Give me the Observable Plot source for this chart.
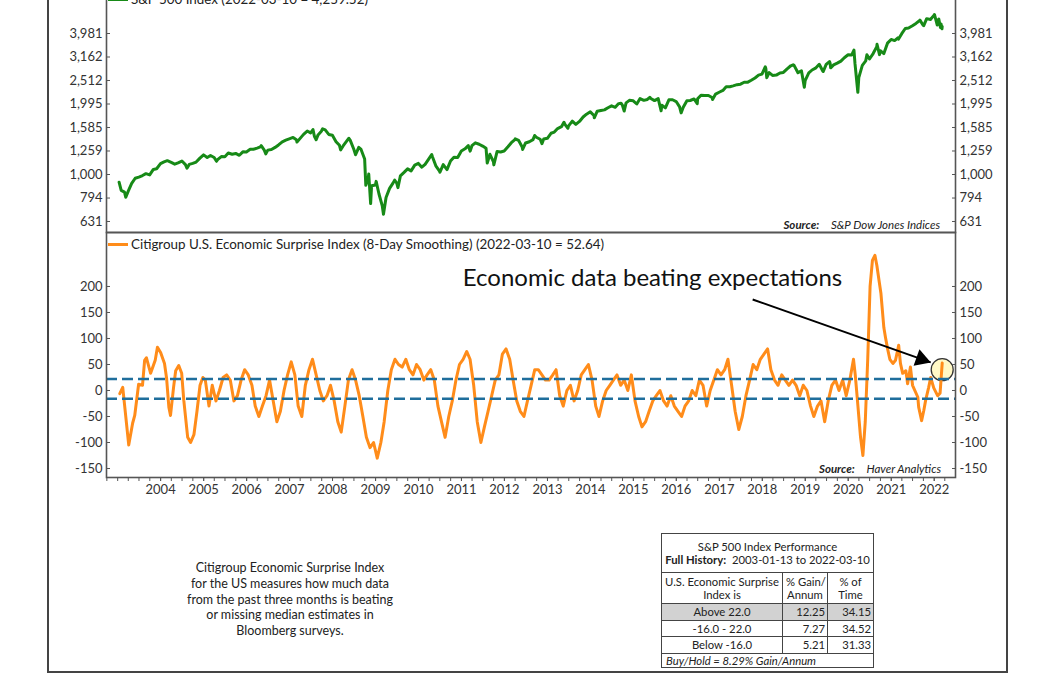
<!DOCTYPE html>
<html>
<head>
<meta charset="utf-8">
<script src="https://cdn.jsdelivr.net/npm/d3@7"></script>
<script src="https://cdn.jsdelivr.net/npm/@observablehq/plot@0.6"></script>
<style>
  body { margin: 0; background: #fff; }
  #root { position: relative; width: 1056px; height: 675px; overflow: hidden; background: #fff; font-family: Lato, "Open Sans", sans-serif; color: #222; }
  .abs { position: absolute; }
  .legend { font-size: 13.4px; white-space: nowrap; display: flex; align-items: center; color: #222; }
  .legend .sw { display: inline-block; width: 20px; height: 3px; margin-right: 3px; }
  .src { font-size: 11.5px; font-style: italic; white-space: nowrap; text-align: right; color: #222; }
  .src b { font-weight: 700; margin-right: 9px; }
  #note { font-size: 12.5px; line-height: 15.8px; text-align: center; width: 300px; color: #222; }
  #perf { border-collapse: collapse; table-layout: fixed; font-size: 11.3px; color: #222; background: #fff; border: 1.5px solid #333; white-space: nowrap; }
  #perf td { border: 1px solid #444; padding: 0 3px; line-height: 13.5px; overflow: hidden; }
</style>
</head>
<body>
<div id="root">
  <div class="abs" style="left:47px;top:-10px;width:961px;height:683px;border:2px solid #444;box-sizing:border-box"></div>
  <div id="topChart" class="abs" style="left:0;top:-24px"></div>
  <div id="botChart" class="abs" style="left:0;top:222px"></div>
  <div class="abs legend" style="left:108px;top:-9px"><span class="sw" style="background:#178a17"></span><span id="legTop"></span></div>
  <div class="abs legend" style="left:108px;top:236px"><span class="sw" style="background:#ff8c1a"></span><span id="legBot"></span></div>
  <div class="abs src" style="right:116px;top:218px"><b>Source:</b> S&amp;P Dow Jones Indices</div>
  <div class="abs src" style="right:115px;top:462px"><b>Source:</b> Haver Analytics</div>
  <div id="note" class="abs" style="left:140px;top:560px"></div>
  <table id="perf" class="abs" style="left:661px;top:533px;width:212px"></table>
</div>
<script>
// ---------------- data ----------------
// S&P 500: month-end closes
const spxDates = [
"2003-01-13","2003-01-31","2003-02-28","2003-03-11","2003-03-31","2003-04-30","2003-05-30","2003-06-30","2003-07-31","2003-08-29","2003-09-30","2003-10-31","2003-11-28","2003-12-31",
"2004-01-30","2004-02-27","2004-03-31","2004-04-30","2004-05-28","2004-06-30","2004-07-30","2004-08-31","2004-09-30","2004-10-29","2004-11-30","2004-12-31",
"2005-01-31","2005-02-28","2005-03-31","2005-04-29","2005-05-31","2005-06-30","2005-07-29","2005-08-31","2005-09-30","2005-10-31","2005-11-30","2005-12-30",
"2006-01-31","2006-02-28","2006-03-31","2006-04-28","2006-05-31","2006-06-30","2006-07-31","2006-08-31","2006-09-29","2006-10-31","2006-11-30","2006-12-29",
"2007-01-31","2007-02-28","2007-03-30","2007-04-30","2007-05-31","2007-06-29","2007-07-31","2007-08-31","2007-09-28","2007-10-09","2007-10-31","2007-11-30","2007-12-31",
"2008-01-31","2008-02-29","2008-03-31","2008-04-30","2008-05-30","2008-06-30","2008-07-31","2008-08-29","2008-09-30","2008-10-31","2008-11-20","2008-11-28","2008-12-31",
"2009-01-30","2009-02-27","2009-03-09","2009-03-31","2009-04-30","2009-05-29","2009-06-30","2009-07-31","2009-08-31","2009-09-30","2009-10-30","2009-11-30","2009-12-31",
"2010-01-29","2010-02-26","2010-03-31","2010-04-30","2010-05-28","2010-06-30","2010-07-30","2010-08-31","2010-09-30","2010-10-29","2010-11-30","2010-12-31",
"2011-01-31","2011-02-28","2011-03-31","2011-04-29","2011-05-31","2011-06-30","2011-07-29","2011-08-31","2011-09-30","2011-10-03","2011-10-31","2011-11-30","2011-12-30",
"2012-01-31","2012-02-29","2012-03-30","2012-04-30","2012-05-31","2012-06-29","2012-07-31","2012-08-31","2012-09-28","2012-10-31","2012-11-30","2012-12-31",
"2013-01-31","2013-02-28","2013-03-28","2013-04-30","2013-05-31","2013-06-28","2013-07-31","2013-08-30","2013-09-30","2013-10-31","2013-11-29","2013-12-31",
"2014-01-31","2014-02-28","2014-03-31","2014-04-30","2014-05-30","2014-06-30","2014-07-31","2014-08-29","2014-09-30","2014-10-31","2014-11-28","2014-12-31",
"2015-01-30","2015-02-27","2015-03-31","2015-04-30","2015-05-29","2015-06-30","2015-07-31","2015-08-31","2015-09-30","2015-10-30","2015-11-30","2015-12-31",
"2016-01-29","2016-02-29","2016-03-31","2016-04-29","2016-05-31","2016-06-30","2016-07-29","2016-08-31","2016-09-30","2016-10-31","2016-11-30","2016-12-30",
"2017-01-31","2017-02-28","2017-03-31","2017-04-28","2017-05-31","2017-06-30","2017-07-31","2017-08-31","2017-09-29","2017-10-31","2017-11-30","2017-12-29",
"2018-01-31","2018-02-28","2018-03-29","2018-04-30","2018-05-31","2018-06-29","2018-07-31","2018-08-31","2018-09-28","2018-10-31","2018-11-30","2018-12-24","2018-12-31",
"2019-01-31","2019-02-28","2019-03-29","2019-04-30","2019-05-31","2019-06-28","2019-07-31","2019-08-30","2019-09-30","2019-10-31","2019-11-29","2019-12-31",
"2020-01-31","2020-02-19","2020-02-28","2020-03-23","2020-03-31","2020-04-30","2020-05-29","2020-06-30","2020-07-31","2020-08-31","2020-09-30","2020-10-30","2020-11-30","2020-12-31",
"2021-01-29","2021-02-26","2021-03-31","2021-04-30","2021-05-28","2021-06-30","2021-07-30","2021-08-31","2021-09-30","2021-10-29","2021-11-30","2021-12-31",
"2022-01-31","2022-02-28","2022-03-10"];
const spxValues = [
927,856,841,800,848,916,964,975,990,1008,996,1051,1058,1112,
1131,1145,1126,1107,1121,1141,1102,1104,1115,1130,1174,1212,
1181,1204,1181,1157,1192,1191,1234,1220,1229,1207,1249,1248,
1280,1281,1295,1311,1270,1270,1277,1304,1336,1378,1401,1418,
1438,1407,1421,1482,1531,1503,1455,1474,1527,1565,1549,1481,1468,
1379,1331,1323,1386,1400,1280,1267,1283,1165,969,752,896,903,
826,735,677,798,873,919,919,987,1021,1057,1036,1096,1115,
1074,1104,1169,1187,1089,1031,1102,1049,1141,1183,1181,1258,
1286,1327,1326,1364,1345,1321,1292,1219,1131,1099,1253,1247,1258,
1312,1366,1408,1398,1310,1362,1379,1407,1441,1412,1416,1426,
1498,1515,1569,1598,1631,1606,1686,1633,1682,1757,1806,1848,
1783,1859,1872,1884,1924,1960,1931,2003,1972,2018,2068,2059,
1995,2105,2068,2086,2107,2063,2104,1972,1920,2079,2080,2044,
1940,1932,2060,2065,2097,2099,2174,2171,2168,2126,2199,2239,
2279,2364,2363,2384,2412,2423,2470,2472,2519,2575,2648,2674,
2824,2714,2641,2648,2705,2718,2816,2902,2914,2712,2760,2351,2507,
2704,2784,2834,2946,2752,2942,2980,2926,2977,3038,3141,3231,
3226,3386,2954,2237,2585,2912,3044,3100,3271,3500,3363,3270,3622,3756,
3714,3811,3973,4181,4204,4298,4395,4523,4308,4605,4567,4766,
4516,4374,4260];
// S&P 500: intra-month swing highs and lows
const spxSwingDates = ["2004-08-12","2005-04-20","2006-05-05","2006-06-13","2007-03-05","2007-07-19","2007-08-15","2008-03-10","2008-05-19","2008-07-15","2008-08-11","2008-10-10","2008-11-04","2009-01-06","2009-06-12","2009-07-10","2010-04-23","2010-07-02","2011-03-16","2011-08-08","2012-04-02","2012-06-04","2012-09-14","2012-11-15","2013-05-21","2013-06-24","2014-02-03","2014-09-18","2014-10-15","2015-05-21","2015-08-25","2016-02-11","2016-06-27","2016-11-04","2018-01-26","2018-02-08","2018-09-20","2019-06-03","2019-07-26","2019-08-05","2020-06-08","2020-09-02","2020-09-23","2021-03-04","2021-09-02","2021-10-04","2022-01-03","2022-01-27","2022-02-09","2022-02-23","2022-03-08"];
const spxSwingValues = [1064,1138,1326,1224,1374,1553,1406,1273,1426,1214,1305,899,1005,935,946,879,1217,1022,1257,1119,1419,1278,1466,1353,1669,1573,1742,2011,1862,2131,1867,1829,2001,2085,2873,2581,2930,2744,3025,2844,3232,3580,3237,3768,4537,4300,4797,4326,4587,4225,4170];

// Citigroup U.S. surprise index, 2003 - 2004 readings
const cesiStartDates = ["2003-01-19","2003-02-13","2003-04-05","2003-05-08","2003-05-26","2003-06-28","2003-07-31","2003-08-18","2003-09-02","2003-10-08","2003-11-16","2003-12-05","2004-01-01","2004-02-03","2004-02-21","2004-03-11","2004-03-25","2004-04-20","2004-05-08","2004-06-03","2004-06-28","2004-07-16","2004-08-18","2004-09-12","2004-10-10","2004-11-05","2004-12-01","2004-12-25"];
const cesiStartValues = [-6,6,-105,-63,-48,12,10,58,63,33,58,83,73,52,23,-32,-48,6,38,48,33,-19,-90,-100,-85,-40,10,25];
// mid-month readings, one row of 12 per year
const cesiYears = [2005,2006,2007,2008,2009,2010,2011,2012,2013,2014,2015,2016,2017,2018,2019];
const cesiMonthly = [
20,-30,10,-20,0,25,30,20,-20,-10,20,40,
30,10,-30,-50,-30,-10,20,-20,-60,-40,0,30,
55,30,-30,-50,10,40,60,30,0,-20,-10,10,
-20,-60,-80,-30,20,40,20,-10,-50,-90,-110,-100,
-130,-100,-60,0,40,60,50,45,60,40,30,50,
40,20,30,40,20,-30,-60,-90,-50,-20,20,50,
60,75,60,10,-60,-100,-70,-40,-10,20,30,70,
80,60,20,-20,-40,-50,-20,10,40,40,30,20,
20,30,40,-10,-30,0,10,-20,0,30,40,50,
20,-30,-50,-20,0,10,20,30,10,20,0,30,
-20,-50,-70,-60,-40,-20,-10,0,-20,-30,-10,-30,
-40,-50,-30,-20,0,-10,20,10,-30,0,20,40,
30,40,60,10,-40,-75,-50,-10,20,50,40,60,
70,80,40,20,10,30,20,10,20,10,-10,10,
0,-30,-50,-30,-20,-60,-20,10,20,0,20,-10];
// 2020 - 2022 readings
const cesiEndDates = ["2020-01-15","2020-02-15","2020-03-01","2020-03-20","2020-04-15","2020-05-05","2020-05-25","2020-06-15","2020-07-05","2020-07-25","2020-08-15","2020-09-01","2020-09-20","2020-10-05","2020-10-30","2020-11-13","2020-12-01","2020-12-20","2021-01-15","2021-02-06","2021-03-05","2021-03-20","2021-04-08","2021-05-05","2021-05-20","2021-06-13","2021-07-01","2021-08-15","2021-08-22","2021-09-16","2021-10-05","2021-10-20","2021-11-15","2021-12-02","2021-12-28","2022-01-30","2022-02-20","2022-03-10"];
const cesiEndValues = [20,60,30,-20,-90,-125,-60,60,200,250,260,240,210,187,121,102,80,60,52,58,87,52,33,38,13,45,10,-13,-32,-58,-38,-19,6,25,5,-10,-5,52.64];

const spxTicks = [631, 794, 1000, 1259, 1585, 1995, 2512, 3162, 3981];
const spxRange = [566.5, 6309.6];
const cesiTicks = [-150, -100, -50, 0, 50, 100, 150, 200];
const cesiRange = [-167.3, 303.8];
const bandLevels = [22, -16];
const circleLevel = [40];
const yearLabels = d3.range(2004, 2023);

const legendTopText = "S&P 500 Index (2022-03-10 = 4,259.52)";
const legendBotText = "Citigroup U.S. Economic Surprise Index (8-Day Smoothing) (2022-03-10 = 52.64)";
const annotationText = ["Economic data beating expectations"];
const noteLines = ["Citigroup Economic Surprise Index", "for the US measures how much data", "from the past three months is beating", "or missing median estimates in", "Bloomberg surveys."];

const tableTitle = "S&P 500 Index Performance";
const tableRange = "2003-01-13 to 2022-03-10";
const tableHeader = ["U.S. Economic Surprise<br>Index is", "% Gain/<br>Annum", "% of<br>Time"];
const tableLabels = ["Above 22.0", "-16.0 - 22.0", "Below -16.0"];
const tableGain = ["12.25", "7.27", "5.21"];
const tableTime = ["34.15", "34.52", "31.33"];
const tableFooter = "Buy/Hold = 8.29% Gain/Annum";

// ---------------- build ----------------
const parse = d3.utcParse("%Y-%m-%d");
const spx = spxDates.map((d, i) => ({date: parse(d), logv: Math.log10(spxValues[i])}))
  .concat(spxSwingDates.map((d, i) => ({date: parse(d), logv: Math.log10(spxSwingValues[i])})))
  .sort((a, b) => a.date - b.date);

const cesi = [];
cesiStartDates.forEach((d, i) => cesi.push({date: parse(d), value: cesiStartValues[i]}));
cesiYears.forEach((y, yi) => d3.range(12).forEach(m => cesi.push({date: new Date(Date.UTC(y, m, 15)), value: cesiMonthly[yi * 12 + m]})));
cesiEndDates.forEach((d, i) => cesi.push({date: parse(d), value: cesiEndValues[i]}));
const last = [{date: cesi[cesi.length - 1].date, value: circleLevel[0]}];

const xDomain = [parse("2002-09-28"), parse("2022-07-01")];
const yearTicks = yearLabels.map(y => new Date(Date.UTC(y, 0, 1)));
const quarterTicks = d3.utcMonth.every(3).range(xDomain[0], xDomain[1]);

const baseStyle = {fontFamily: "Lato, sans-serif", fontSize: "13px", background: "transparent", color: "#333", overflow: "visible"};
const axisColor = "#555";
const fmtSpx = d => d3.format(",")(Math.round(10 ** d));

const topPlot = Plot.plot({
  width: 1056, height: 258,
  marginLeft: 106, marginRight: 101, marginTop: 10, marginBottom: 2,
  style: baseStyle,
  x: {type: "utc", domain: xDomain, axis: null},
  y: {type: "linear", domain: spxRange.map(Math.log10)},
  marks: [
    Plot.line(spx, {x: "date", y: "logv", stroke: "#178a17", strokeWidth: 3}),
    Plot.frame({stroke: axisColor, strokeWidth: 1.6}),
    Plot.axisY(spxTicks.map(Math.log10), {anchor: "left", tickSize: -4, tickPadding: 8, tickFormat: fmtSpx, stroke: axisColor, label: null}),
    Plot.axisY(spxTicks.map(Math.log10), {anchor: "right", tickSize: -4, tickPadding: 8, tickFormat: fmtSpx, stroke: axisColor, label: null})
  ]
});
document.getElementById("topChart").append(topPlot);

// annotation arrow: from under the caption to the latest reading
const arrowData = [{x1: parse("2017-10-11"), y1: 175, x2: parse("2021-12-02"), y2: 54}];
const annoData = [{date: parse("2015-06-13"), value: 215, text: annotationText[0]}];

const botPlot = Plot.plot({
  width: 1056, height: 285,
  marginLeft: 106, marginRight: 101, marginTop: 10, marginBottom: 30,
  style: baseStyle,
  x: {type: "utc", domain: xDomain},
  y: {domain: cesiRange},
  marks: [
    Plot.dot(last, {x: "date", y: "value", r: 11, fill: "#fff8c6", stroke: "#333", strokeWidth: 1.3}),
    Plot.line(cesi, {x: "date", y: "value", stroke: "#ff8c1a", strokeWidth: 3}),
    Plot.ruleY(bandLevels, {stroke: "#1f6e9c", strokeWidth: 2.5, strokeDasharray: "11,5"}),
    Plot.link(arrowData, {x1: "x1", y1: "y1", x2: "x2", y2: "y2", stroke: "#000", strokeWidth: 2}),
    Plot.dot(arrowData, {x: "x2", y: "y2", symbol: "triangle", r: 6.5, rotate: 109.5, dx: -9.4, dy: -3.3, fill: "#000", stroke: "none"}),
    Plot.text(annoData, {x: "date", y: "value", text: "text", fontSize: 24, fill: "#111"}),
    Plot.frame({stroke: axisColor, strokeWidth: 1.6}),
    Plot.axisX(quarterTicks, {tickSize: 4, tickFormat: () => "", stroke: axisColor, label: null}),
    Plot.axisX(yearTicks, {tickSize: 4, tickPadding: 3, tickFormat: d3.utcFormat("%Y"), stroke: axisColor, label: null}),
    Plot.axisY(cesiTicks, {anchor: "left", tickSize: -4, tickPadding: 8, tickFormat: d => String(d), stroke: axisColor, label: null}),
    Plot.axisY(cesiTicks, {anchor: "right", tickSize: -4, tickPadding: 8, tickFormat: d => String(d), stroke: axisColor, label: null})
  ]
});
document.getElementById("botChart").append(botPlot);

document.getElementById("legTop").textContent = legendTopText;
document.getElementById("legBot").textContent = legendBotText;
document.getElementById("note").innerHTML = noteLines.join("<br>");

let html = `<colgroup><col style="width:121px"><col style="width:45px"><col style="width:46px"></colgroup>`;
html += `<tr style="height:39px"><td colspan="3" style="text-align:center;padding:0 1px">${tableTitle}<br><b>Full History:</b>&nbsp;&nbsp;${tableRange}</td></tr>`;
html += `<tr style="text-align:center;height:31px"><td>${tableHeader[0]}</td><td>${tableHeader[1]}</td><td>${tableHeader[2]}</td></tr>`;
tableLabels.forEach((l, i) => {
  const bg = i === 0 ? "background:#d2d2d2;" : "";
  html += `<tr style="${bg}height:16.5px"><td style="text-align:center">${l}</td><td style="text-align:right;padding-right:2px">${tableGain[i]}</td><td style="text-align:right;padding-right:2px">${tableTime[i]}</td></tr>`;
});
html += `<tr style="height:13px"><td colspan="3" style="font-style:italic;padding-left:4px">${tableFooter}</td></tr>`;
document.getElementById("perf").innerHTML = html;
</script>
</body>
</html>
